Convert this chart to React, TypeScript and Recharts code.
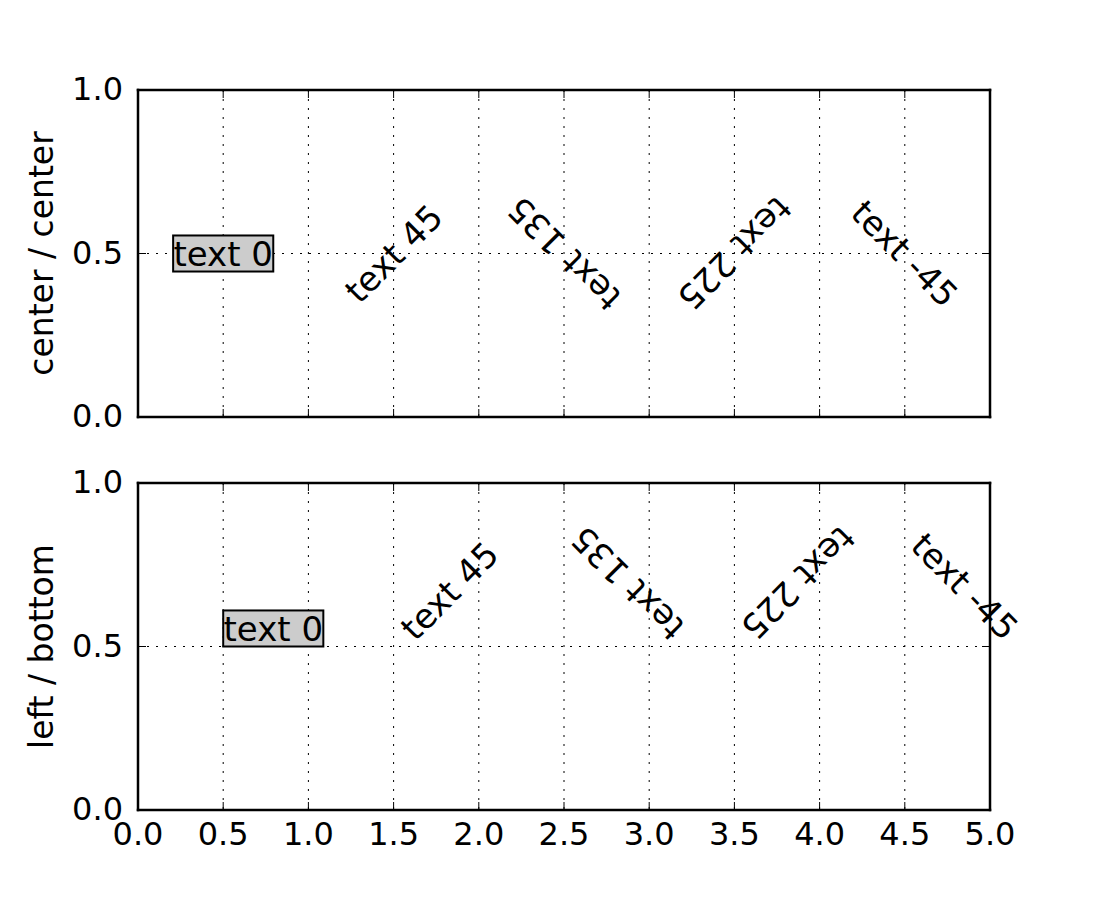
import React from "react";
import {
  ComposedChart,
  Scatter,
  XAxis,
  YAxis,
  CartesianGrid,
} from "recharts";

// ---- data ----
const xPositions = [0.5, 1.5, 2.5, 3.5, 4.5];
const rotations = [0, 45, 135, 225, -45];
const textLabels = ["text 0", "text 45", "text 135", "text 225", "text -45"];
const yValue = 0.5;
const xTicks = [0, 0.5, 1, 1.5, 2, 2.5, 3, 3.5, 4, 4.5, 5];
const yTicks = [0, 0.5, 1];
const panelTitles = ["center / center", "left / bottom"];
const panelModes = ["center", "leftbottom"];

const points = xPositions.map((x, i) => ({
  x,
  y: yValue,
  label: textLabels[i],
  angle: rotations[i],
  boxed: i === 0,
}));

// ---- styling ----
const FONT = "DejaVu Sans";
const TEXT_FS = 34;
const LABEL_FS = 33;
const TICK_FS = 32;
const TICK_LEN = 8;
const AX = 1; // axis box thickness
const PLOT_W = 852;
const PLOT_H = 327;

const CHAR_W: Record<string, number> = {
  t: 0.392,
  e: 0.615,
  x: 0.592,
  " ": 0.318,
  "-": 0.361,
  "0": 0.636, "1": 0.636, "2": 0.636, "3": 0.636, "4": 0.636,
  "5": 0.636, "6": 0.636, "7": 0.636, "8": 0.636, "9": 0.636,
};
const textWidthEm = (s: string) =>
  s.split("").reduce((a, c) => a + (CHAR_W[c] ?? 0.6), 0);

const makeShape = (mode: string) => (props: any) => {
  const { cx, cy, payload } = props;
  if (cx == null || cy == null || !payload) return <g />;
  const fs = TEXT_FS;
  const w = textWidthEm(payload.label) * fs;
  const h = 1.06 * fs;
  const th = (payload.angle * Math.PI) / 180;
  const W = w * Math.abs(Math.cos(th)) + h * Math.abs(Math.sin(th));
  const H = w * Math.abs(Math.sin(th)) + h * Math.abs(Math.cos(th));
  let ccx = cx;
  let ccy = cy;
  if (mode === "leftbottom") {
    ccx = cx + W / 2;
    ccy = cy - H / 2;
  }
  return (
    <g transform={`translate(${ccx},${ccy}) rotate(${-payload.angle})`}>
      {payload.boxed && (
        <rect
          x={-w / 2}
          y={-h / 2}
          width={w}
          height={h}
          fill="#cccccc"
          stroke="#000"
          strokeWidth={2}
        />
      )}
      <text
        x={0}
        y={0.36 * fs}
        textAnchor="middle"
        fontFamily={FONT}
        fontSize={fs}
        fill="#000"
      >
        {payload.label}
      </text>
    </g>
  );
};

const fmt = (v: number) => v.toFixed(1);

// bottom axis tick: draws inward bottom tick, inward top tick, and label
const BottomTick = (showLabel: boolean) => (props: any) => {
  const { x, y, payload } = props;
  const top = y - PLOT_H;
  return (
    <g>
      <line x1={x} x2={x} y1={y} y2={y - TICK_LEN} stroke="#000" strokeWidth={1} />
      <line x1={x} x2={x} y1={top} y2={top + TICK_LEN} stroke="#000" strokeWidth={1} />
      {showLabel && (
        <text x={x} y={y + 35} textAnchor="middle" fontFamily={FONT} fontSize={TICK_FS} fill="#000">
          {fmt(payload.value)}
        </text>
      )}
    </g>
  );
};

// left axis tick: draws inward left tick, inward right tick, and label
const LeftTick = (props: any) => {
  const { x, y, payload } = props;
  const right = x + PLOT_W;
  return (
    <g>
      <line x1={x} x2={x + TICK_LEN} y1={y} y2={y} stroke="#000" strokeWidth={1} />
      <line x1={right} x2={right - TICK_LEN} y1={y} y2={y} stroke="#000" strokeWidth={1} />
      <text x={x - 15} y={y + 10} textAnchor="end" fontFamily={FONT} fontSize={TICK_FS} fill="#000">
        {fmt(payload.value)}
      </text>
    </g>
  );
};

const axisLineStyle = { stroke: "#000", strokeWidth: 2.5, strokeLinecap: "square" as const };

function Panel({ index, showXLabels }: { index: number; showXLabels: boolean }) {
  // plot area: x 138..990 ; top panel y 90..417 ; bottom panel y 483..810 (page coords)
  const margin =
    index === 0
      ? { top: 90 - AX, right: 110 - AX, bottom: 33 - AX, left: 138 - AX }
      : { top: 33 - AX, right: 110 - AX, bottom: 90 - AX, left: 138 - AX };
  const title = panelTitles[index];
  return (
    <ComposedChart width={1100} height={450} data={points} margin={margin}>
      <CartesianGrid stroke="#000" strokeDasharray="2 7" strokeWidth={1} />
      <XAxis
        xAxisId={0}
        dataKey="x"
        type="number"
        domain={[0, 5]}
        ticks={xTicks}
        interval={0}
        height={AX}
        tickSize={0}
        tickMargin={0}
        tickLine={false}
        axisLine={axisLineStyle}
        tick={BottomTick(showXLabels)}
        orientation="bottom"
      />
      <XAxis
        xAxisId="top"
        type="number"
        domain={[0, 5]}
        ticks={xTicks}
        height={AX}
        tickSize={0}
        tickLine={false}
        axisLine={axisLineStyle}
        tick={false}
        orientation="top"
      />
      <YAxis
        yAxisId={0}
        dataKey="y"
        type="number"
        domain={[0, 1]}
        ticks={yTicks}
        interval={0}
        width={AX}
        tickSize={0}
        tickMargin={0}
        tickLine={false}
        axisLine={axisLineStyle}
        tick={LeftTick}
        orientation="left"
        label={{
          content: (p: any) => {
            const vb = p.viewBox || {};
            const cy = (vb.y ?? 0) + (vb.height ?? 0) / 2;
            const bx = 53;
            return (
              <text
                x={bx}
                y={cy}
                transform={`rotate(-90, ${bx}, ${cy})`}
                textAnchor="middle"
                fontFamily={FONT}
                fontSize={LABEL_FS}
                fill="#000"
              >
                {title}
              </text>
            );
          },
        }}
      />
      <YAxis
        yAxisId="right"
        type="number"
        domain={[0, 1]}
        ticks={yTicks}
        width={AX}
        tickSize={0}
        tickLine={false}
        axisLine={axisLineStyle}
        tick={false}
        orientation="right"
      />
      <Scatter
        xAxisId={0}
        yAxisId={0}
        dataKey="y"
        isAnimationActive={false}
        shape={makeShape(panelModes[index])}
      />
    </ComposedChart>
  );
}

export default function App() {
  return (
    <div
      style={{
        position: "absolute",
        left: 0,
        top: 0,
        width: 1100,
        height: 900,
        background: "#fff",
      }}
    >
      <Panel index={0} showXLabels={false} />
      <Panel index={1} showXLabels={true} />
    </div>
  );
}
